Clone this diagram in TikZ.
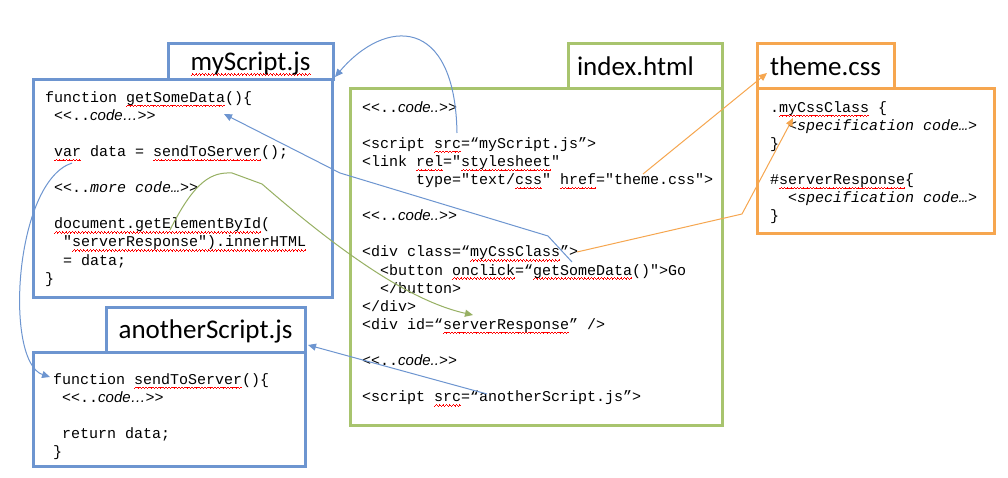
\documentclass[tikz,border=0pt]{standalone}
\usepackage{fontspec}
\usetikzlibrary{arrows.meta}
\newfontfamily\codefont{Liberation Mono}
\newfontfamily\titlefont{Carlito}
\newfontfamily\notefont{Liberation Sans}
\definecolor{jsblue}{HTML}{6D95D0}
\definecolor{htmlgreen}{HTML}{A8C46E}
\definecolor{cssorange}{HTML}{F6A64F}
% red spell-check wave under a word
\newcommand\wavebit{\hbox{%
    \raise0pt\hbox{\vrule width0.8pt height0.7pt}%
    \raise0.7pt\hbox{\vrule width0.8pt height0.7pt}%
    \raise1.4pt\hbox{\vrule width0.8pt height0.7pt}%
    \raise0.7pt\hbox{\vrule width0.8pt height0.7pt}}}
\newcommand\typo[1]{\leavevmode\setbox0\hbox{#1}%
    \rlap{\lower4.5pt\hbox to\wd0{\color{red}\xleaders\wavebit\hfill}}\box0\relax}
\newcommand\ind[1]{\hspace*{#1\fontcharwd\font`\x}}
\newcommand\codeword[1]{{\notefont\itshape #1}}

\begin{document}
\begin{tikzpicture}[
      x=1pt, y=-1pt,
      tab/.style={
          rectangle, draw, fill=white, line width=3pt, inner sep=0pt,
          text height=20pt, text depth=2pt,
          font=\titlefont\fontsize{27}{30}\selectfont
      },
      panel/.style={
          rectangle, draw, fill=white, line width=3pt, inner sep=0pt
      },
      code/.style={
          anchor=north west, inner sep=0pt, align=left,
          font=\codefont\fontsize{15}{18.1}\selectfont
      },
      tip/.style={-{Triangle[length=8pt,width=7pt]}, line width=1pt},
      jslink/.style={tip, draw=jsblue},
      htmllink/.style={tip, draw=htmlgreen!90!black},
      csslink/.style={tip, draw=cssorange}
  ]
  \useasboundingbox (0,0) rectangle (1008,478);

  % myScript.js
  \node[tab, draw=jsblue, minimum width=165pt, minimum height=36pt]
      (mytab) at (250.5,62) {\typo{myScript.js}};
  \node[panel, draw=jsblue, minimum width=299pt, minimum height=217pt]
      (mybody) at (182.5,188.5) {};
  \node[code] (mycode) at (45,89.3) {%
      \strut function \typo{getSomeData}()\{\\
      \ind{1}<<..\codeword{code…}>>\\[18.1pt]
      \ind{1}\typo{var} data = \typo{sendToServer}();\\[18.1pt]
      \ind{1}<<..\textit{more code…}>>\\[18.1pt]
      \ind{1}\typo{document.getElementById}(\\
      \ind{2}"\typo{serverResponse").innerHTML}\\
      \ind{2}= data;\\
      \}};

  % anotherScript.js
  \node[tab, draw=jsblue, minimum width=199pt, minimum height=45pt]
      (anothertab) at (205.5,329.5) {anotherScript.js};
  \node[panel, draw=jsblue, minimum width=272pt, minimum height=114pt]
      (anotherbody) at (169,409) {};
  \node[code] (anothercode) at (53,371.3) {%
      \strut function \typo{sendToServer}()\{\\
      \ind{1}<<..\codeword{code…}>>\\[18.1pt]
      \ind{1}return data;\\
      \}};

  % index.html
  \node[tab, draw=htmlgreen, minimum width=154pt, minimum height=45pt,
        text width=136pt, align=left]
      (htmltab) at (645,66.5) {index.html};
  \node[panel, draw=htmlgreen, minimum width=372pt, minimum height=336pt]
      (htmlbody) at (536,257) {};
  \node[code] (htmlcode) at (362,99.3) {%
      \strut <<..\codeword{code..}>>\\[18.1pt]
      <script \typo{src}=“myScript.js”>\\
      <link \typo{rel}="\typo{stylesheet}"\\
      \ind{6}type="text/\typo{css}" \typo{href}="theme.css">\\[18.1pt]
      <<..\codeword{code..}>>\\[18.1pt]
      <div class=“\typo{myCssClass}”>\\
      \ind{2}<button \typo{onclick}=“\typo{getSomeData}()">Go\\
      \ind{2}</button>\\
      </div>\\
      <div id=“\typo{serverResponse}” />\\[18.1pt]
      <<..\codeword{code..}>>\\[18.1pt]
      <script \typo{src}=“anotherScript.js”>};

  % theme.css
  \node[tab, draw=cssorange, minimum width=137pt, minimum height=45pt]
      (csstab) at (825.5,66.5) {theme.css};
  \node[panel, draw=cssorange, minimum width=237pt, minimum height=145pt]
      (cssbody) at (875.5,161.5) {};
  \node[code] (csscode) at (770,99.3) {%
      \strut .\typo{myCssClass} \{\\
      \ind{2}\textit{<specification code…>}\\
      \}\\[18.1pt]
      \#\typo{serverResponse}\{\\
      \ind{2}\textit{<specification code…>}\\
      \}};

  % link ends
  \coordinate (srcmy) at (457,133);
  \coordinate (mytip) at (335,77);
  \coordinate (onclick) at (572,262);
  \coordinate (clickbend) at (548,236);
  \coordinate (jsbend) at (340,173);
  \coordinate (getdata) at (224,114);
  \coordinate (getel) at (170,230);
  \coordinate (greenpeak) at (232,173);
  \coordinate (greenknee) at (262,184);
  \coordinate (srvresp) at (473,315);
  \coordinate (varword) at (72,163);
  \coordinate (sendfn) at (50,377);
  \coordinate (anothersrc) at (487,394);
  \coordinate (anothertip) at (308,345);
  \coordinate (themehref) at (643,174);
  \coordinate (csstip) at (767,73);
  \coordinate (classattr) at (577,252);
  \coordinate (cssknee) at (742,214);
  \coordinate (classtip) at (793,118);

  % links
  \draw[jslink] (srcmy) .. controls (455,15) and (385,18) .. (mytip);
  \draw[jslink] (onclick) -- (clickbend) -- (jsbend) -- (getdata);
  \draw[htmllink] (getel) .. controls (195,180) and (212,172) .. (greenpeak)
      -- (greenknee) .. controls (330,243) and (405,300) .. (srvresp);
  \draw[jslink] (varword) .. controls (14,182) and (4,362) .. (sendfn);
  \draw[jslink] (anothersrc) -- (anothertip);
  \draw[csslink] (themehref) -- (csstip);
  \draw[csslink] (classattr) -- (cssknee) -- (classtip);
\end{tikzpicture}
\end{document}
